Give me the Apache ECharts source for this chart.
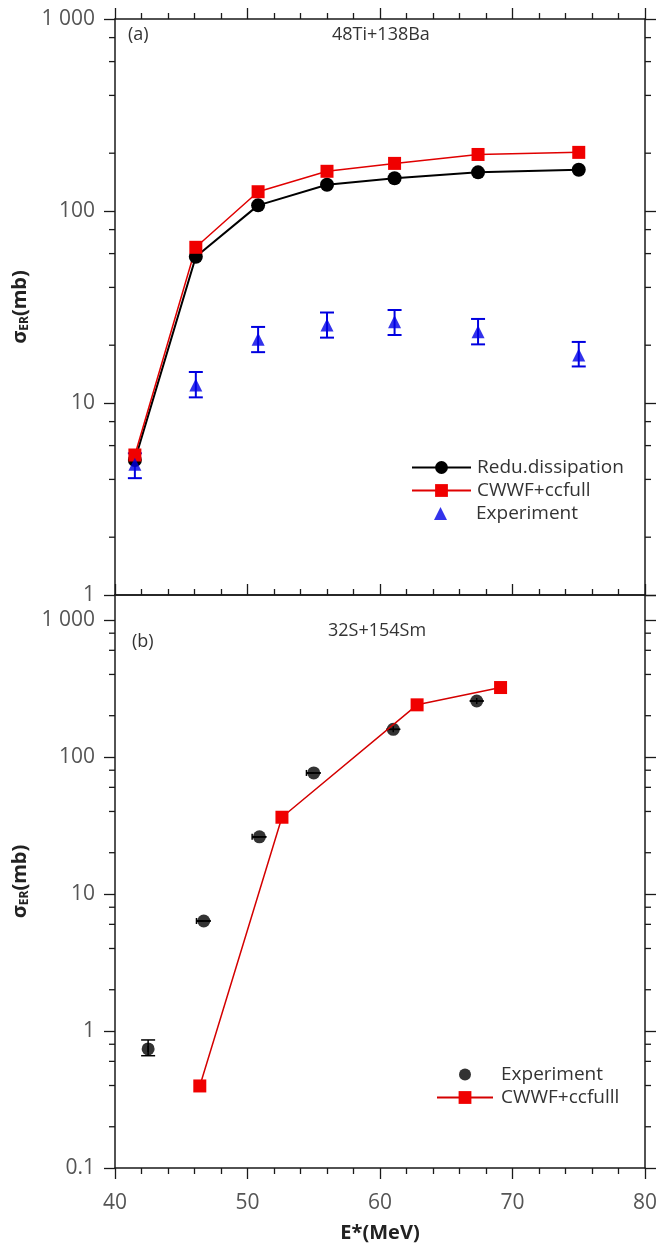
<!DOCTYPE html>
<html>
<head>
<meta charset="utf-8">
<script src="https://cdn.jsdelivr.net/npm/echarts@6/dist/echarts.min.js"></script>
<style>
  html, body { margin: 0; padding: 0; background: #fff; }
  #chart { width: 658px; height: 1247px; }
</style>
</head>
<body>
<div id="chart"></div>
<script>
// panel (a): 48Ti+138Ba
const energyA = [41.5, 46.1, 50.8, 56.0, 61.1, 67.4, 75.0];
const reduDissA = [5.05, 57.8, 107, 137, 148, 159, 164];
const cwwfA = [5.36, 64.7, 126, 161, 177, 197, 202];
const expA = [4.8, 12.4, 21.5, 25.5, 26.5, 23.5, 17.8];
const expALo = [4.06, 10.7, 18.4, 21.9, 22.6, 20.2, 15.5];
const expAHi = [5.47, 14.5, 24.9, 29.6, 30.5, 27.4, 20.8];

// panel (b): 32S+154Sm
const energyBExp = [42.5, 46.7, 50.9, 55.0, 61.0, 67.3];
const expB = [0.74, 6.35, 26.1, 76.4, 159, 256];
const expBLo = [0.66, 6.35, 26.1, 76.4, 159, 256];
const expBHi = [0.86, 6.35, 26.1, 76.4, 159, 256];
const expBXErr = [0, 0.55, 0.55, 0.55, 0, 0];
const energyBCalc = [46.4, 52.6, 62.8, 69.1];
const cwwfB = [0.397, 36.3, 240, 321];

// axes
const xMin = 40, xMax = 80, xStep = 10;
const yMinA = 1, yMaxA = 1000;
const yMinB = 0.1, yMaxB = 1520;
const minorYA = [2, 4, 6, 8, 20, 40, 60, 80, 200, 400, 600, 800];
const minorYB = [0.2, 0.4, 0.6, 0.8, 2, 4, 6, 8, 20, 40, 60, 80, 200, 400, 600, 800];

const FONT = "'Open Sans', 'Noto Sans', sans-serif";
const AXIS_COLOR = '#1a1a1a';
const LABEL_COLOR = '#555';
const LEGEND_TEXT = { fontSize: 19, color: '#333', fontFamily: FONT, lineHeight: 19 };

const chart = echarts.init(document.getElementById('chart'));

function fmtTick(v) {
  return String(v).replace(/\B(?=(\d{3})+(?!\d))/g, ' ');
}

function xAxisCfg(grid, pos, opts) {
  return Object.assign({
    type: 'value', gridIndex: grid, position: pos,
    min: xMin, max: xMax, interval: xStep,
    axisLine: { show: true, onZero: false, lineStyle: { color: AXIS_COLOR, width: 1.5 } },
    axisTick: { show: true, inside: false, length: 11, lineStyle: { color: AXIS_COLOR, width: 1.3 } },
    minorTick: { show: true, splitNumber: 5, length: 6, lineStyle: { color: AXIS_COLOR, width: 1.3 } },
    axisLabel: { show: false },
    splitLine: { show: false }
  }, opts || {});
}

function yAxisCfg(grid, pos, min, max, opts) {
  return Object.assign({
    type: 'log', logBase: 10, gridIndex: grid, position: pos,
    min: min, max: max,
    axisLine: { show: true, onZero: false, lineStyle: { color: AXIS_COLOR, width: 1.5 } },
    axisTick: { show: true, inside: false, length: 11, lineStyle: { color: AXIS_COLOR, width: 1.3 } },
    minorTick: { show: false },
    axisLabel: { show: false },
    splitLine: { show: false }
  }, opts || {});
}

const yLabel = {
  show: true, color: LABEL_COLOR, fontSize: 21, fontFamily: FONT, margin: 20,
  formatter: fmtTick
};

const yName = {
  name: '{s|σ}{sub|ER}{s|(mb)}',
  nameLocation: 'middle',
  nameGap: 77,
  nameTextStyle: {
    rich: {
      s: { fontSize: 20, fontWeight: 'bold', color: '#222', fontFamily: FONT },
      sub: { fontSize: 12, fontWeight: 'bold', color: '#222', fontFamily: FONT, verticalAlign: 'bottom', padding: [8, 0, 0, 0] }
    }
  }
};

function yErrorBars(color, capHalf, width) {
  return function (params, api) {
    const x = api.value(0);
    const lo = api.coord([x, api.value(1)]);
    const hi = api.coord([x, api.value(2)]);
    const style = { stroke: color, lineWidth: width };
    return {
      type: 'group',
      children: [
        { type: 'line', shape: { x1: lo[0], y1: lo[1], x2: hi[0], y2: hi[1] }, style: style },
        { type: 'line', shape: { x1: lo[0] - capHalf, y1: lo[1], x2: lo[0] + capHalf, y2: lo[1] }, style: style },
        { type: 'line', shape: { x1: hi[0] - capHalf, y1: hi[1], x2: hi[0] + capHalf, y2: hi[1] }, style: style }
      ]
    };
  };
}

function xErrorBars(color, capHalf, width) {
  return function (params, api) {
    const y = api.value(2);
    const lo = api.coord([api.value(0), y]);
    const hi = api.coord([api.value(1), y]);
    const style = { stroke: color, lineWidth: width };
    return {
      type: 'group',
      children: [
        { type: 'line', shape: { x1: lo[0], y1: lo[1], x2: hi[0], y2: hi[1] }, style: style },
        { type: 'line', shape: { x1: lo[0], y1: lo[1] - capHalf, x2: lo[0], y2: lo[1] + capHalf }, style: style }
      ]
    };
  };
}

function yMinorTicks(len) {
  return function (params, api) {
    const v = api.value(0);
    const l = api.coord([xMin, v]);
    const r = api.coord([xMax, v]);
    const style = { stroke: AXIS_COLOR, lineWidth: 1.3 };
    return {
      type: 'group',
      children: [
        { type: 'line', shape: { x1: l[0] - len, y1: l[1], x2: l[0], y2: l[1] }, style: style },
        { type: 'line', shape: { x1: r[0], y1: r[1], x2: r[0] + len, y2: r[1] }, style: style }
      ]
    };
  };
}

const pairs = (xs, ys) => xs.map((x, i) => [x, ys[i]]);

function legendCfg(left, top, w, h, pad, names) {
  return {
    orient: 'vertical', left: left, top: top, itemWidth: w, itemHeight: h, itemGap: 4,
    textStyle: Object.assign({ padding: [0, 0, 0, pad] }, LEGEND_TEXT),
    data: names
  };
}

chart.setOption({
  animation: false,
  backgroundColor: '#fff',
  textStyle: { fontFamily: FONT },
  grid: [
    { left: 115, right: 13, top: 19, height: 576, outerBoundsMode: 'none', containLabel: false },
    { left: 115, right: 13, top: 595, height: 573, outerBoundsMode: 'none', containLabel: false }
  ],
  xAxis: [
    xAxisCfg(0, 'bottom', { axisTick: { show: true, inside: true, length: 11, lineStyle: { color: AXIS_COLOR, width: 1.3 } } }),
    xAxisCfg(0, 'top'),
    xAxisCfg(1, 'bottom', {
      axisLabel: { show: true, color: LABEL_COLOR, fontSize: 21, fontFamily: FONT, margin: 25 },
      name: 'E*(MeV)', nameLocation: 'middle', nameGap: 55,
      nameTextStyle: { fontSize: 20, fontWeight: 'bold', color: '#222', fontFamily: FONT }
    }),
    xAxisCfg(1, 'top', { axisTick: { show: false }, minorTick: { show: false } })
  ],
  yAxis: [
    yAxisCfg(0, 'left', yMinA, yMaxA, Object.assign({ axisLabel: yLabel }, yName)),
    yAxisCfg(0, 'right', yMinA, yMaxA),
    yAxisCfg(1, 'left', yMinB, yMaxB, Object.assign({ axisLabel: Object.assign({ showMaxLabel: false }, yLabel) }, yName)),
    yAxisCfg(1, 'right', yMinB, yMaxB)
  ],
  legend: [
    legendCfg(406, 453, 59, 16, 1, ['Redu.dissipation', 'CWWF+ccfull']),
    legendCfg(429, 499, 13, 13, 24, ['Experiment']),
    legendCfg(454, 1060, 12, 12, 25, ['Experiment ']),
    legendCfg(431, 1083, 56, 16, 3, ['CWWF+ccfulll'])
  ],
  graphic: [
    { type: 'text', left: 128, top: 26, style: { text: '(a)', fontSize: 18, fill: '#333', fontFamily: FONT } },
    { type: 'text', left: 332, top: 26, style: { text: '48Ti+138Ba', fontSize: 18, fill: '#333', fontFamily: FONT } },
    { type: 'text', left: 132, top: 633, style: { text: '(b)', fontSize: 18, fill: '#333', fontFamily: FONT } },
    { type: 'text', left: 328, top: 622, style: { text: '32S+154Sm', fontSize: 18, fill: '#333', fontFamily: FONT } }
  ],
  series: [
    // panel (a)
    {
      type: 'custom', name: 'minorA', xAxisIndex: 0, yAxisIndex: 0, silent: true, clip: false,
      renderItem: yMinorTicks(6), data: minorYA.map(v => [v]), encode: { y: 0 }
    },
    {
      type: 'line', name: 'Redu.dissipation', xAxisIndex: 0, yAxisIndex: 0,
      data: pairs(energyA, reduDissA),
      symbol: 'circle', symbolSize: 14,
      lineStyle: { color: '#000', width: 2 }, itemStyle: { color: '#000' }
    },
    {
      type: 'line', name: 'CWWF+ccfull', xAxisIndex: 0, yAxisIndex: 0,
      data: pairs(energyA, cwwfA),
      symbol: 'rect', symbolSize: 13,
      lineStyle: { color: '#e00000', width: 1.5 }, itemStyle: { color: '#f00000' }
    },
    {
      type: 'custom', name: 'errA', xAxisIndex: 0, yAxisIndex: 0, silent: true,
      renderItem: yErrorBars('#0000e0', 7, 2),
      data: energyA.map((x, i) => [x, expALo[i], expAHi[i]]), encode: { x: 0, y: [1, 2] }, z: 3
    },
    {
      type: 'scatter', name: 'Experiment', xAxisIndex: 0, yAxisIndex: 0,
      data: pairs(energyA, expA),
      symbol: 'triangle', symbolSize: 13, itemStyle: { color: '#0000e6' }, z: 4
    },
    // panel (b)
    {
      type: 'custom', name: 'minorB', xAxisIndex: 2, yAxisIndex: 2, silent: true, clip: false,
      renderItem: yMinorTicks(6), data: minorYB.map(v => [v]), encode: { y: 0 }
    },
    {
      type: 'custom', name: 'errB', xAxisIndex: 2, yAxisIndex: 2, silent: true,
      renderItem: yErrorBars('#000', 7, 1.5),
      data: energyBExp.map((x, i) => [x, expBLo[i], expBHi[i]]), encode: { x: 0, y: [1, 2] }
    },
    {
      type: 'custom', name: 'errBX', xAxisIndex: 2, yAxisIndex: 2, silent: true,
      renderItem: xErrorBars('#000', 3, 1.5),
      data: energyBExp.map((x, i) => [x - expBXErr[i], x, expB[i]]), encode: { x: [0, 1], y: 2 }
    },
    {
      type: 'scatter', name: 'Experiment ', xAxisIndex: 2, yAxisIndex: 2,
      data: pairs(energyBExp, expB),
      symbol: 'circle', symbolSize: 13, itemStyle: { color: '#000' }
    },
    {
      type: 'line', name: 'CWWF+ccfulll', xAxisIndex: 2, yAxisIndex: 2,
      data: pairs(energyBCalc, cwwfB),
      symbol: 'rect', symbolSize: 13,
      lineStyle: { color: '#d40000', width: 1.5 }, itemStyle: { color: '#f00000' }
    }
  ]
});
</script>
</body>
</html>
